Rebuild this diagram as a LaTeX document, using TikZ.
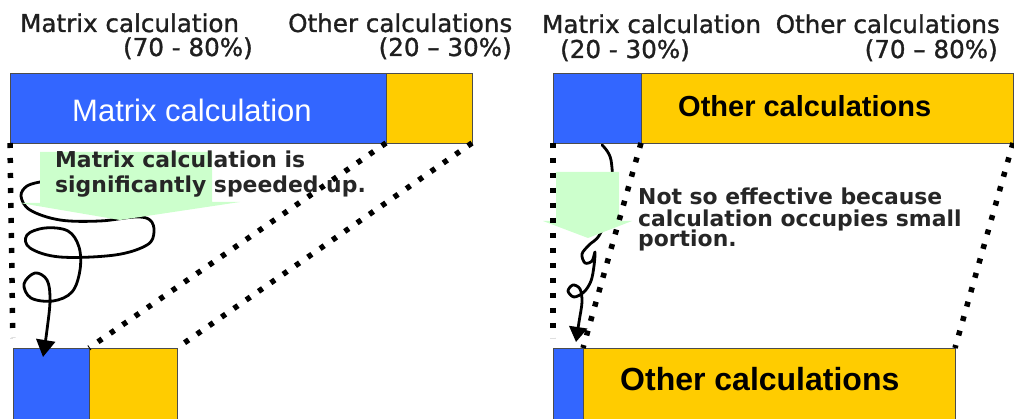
\documentclass[tikz,border=0pt]{standalone}
\usepackage{fontspec}
\setmainfont{DejaVu Sans}
\newfontfamily\arialfont{Liberation Sans}
\newfontfamily\headfont[FakeBold=1.2]{DejaVu Sans}
\usetikzlibrary{arrows.meta}
\definecolor{mblue}{RGB}{51,102,255}
\definecolor{myellow}{RGB}{255,204,0}
\definecolor{mgreen}{RGB}{204,255,204}
\tikzset{
  bar/.style={draw=black!70, line width=0.8pt, inner sep=0pt, outer sep=0pt,
    anchor=north west, minimum height=70pt},
  lbl/.style={inner sep=0pt, font=\headfont\fontsize{24.6}{27}\selectfont, text=black!88},
  note/.style={inner sep=0pt, anchor=base west,
    font=\fontsize{21.9}{24}\selectfont\bfseries, text=black!85},
  guide/.style={line width=5.5pt, dash pattern=on 5pt off 10pt, black},
  squiggle/.style={line width=2.8pt, line join=round, line cap=round,
    -{Triangle[width=19pt,length=17pt]}},
  bubble/.style={fill=mgreen, draw=none}
}
\begin{document}
\begin{tikzpicture}[x=1pt,y=-1pt]
\useasboundingbox (0,0) rectangle (1014,419);
\clip (0,0) rectangle (1014,419);

% ---------- left: before ----------
\node[lbl, anchor=base west] (lhA)  at (20,32)  {Matrix calculation};
\node[lbl, anchor=base east] (lhAp) at (253,56) {(70 - 80\%)};
\node[lbl, anchor=base west] (lhB)  at (288,32) {Other calculations};
\node[lbl, anchor=base east] (lhBp) at (512,56) {(20 \textendash{} 30\%)};

\node[bar, fill=mblue,   minimum width=376pt] (LtopMat) at (10,73)  {};
\node[bar, fill=myellow, minimum width=86pt]  (LtopOth) at (386,73) {};
\node[anchor=base west, inner sep=0pt, text=white,
      font=\arialfont\fontsize{31}{34}\selectfont] (LtopTxt) at (72,122) {Matrix calculation};

\node[bar, fill=mblue,   minimum width=76pt, minimum height=90pt] (LbotMat) at (13,348) {};
\node[bar, fill=myellow, minimum width=88pt, minimum height=90pt] (LbotOth) at (89,348) {};

% winding path of the speed-up arrow
\draw[squiggle] plot[smooth, tension=0.6] coordinates {
  (40,182) (27,186) (21,196) (30,210) (60,220) (100,221) (135,217) (150,220)
  (154,232) (147,245) (115,255) (60,257) (30,248) (27,235) (45,228) (68,231)
  (79,247) (80,270) (72,292) (53,301) (31,298) (24,284) (35,273) (47,280)
  (50,300) (47,330) (43,357)};

\path[bubble] (40,152) -- (212,152) -- (212,202) -- (240,202) -- (120,220)
  -- (20,203) -- (40,203) -- cycle;
\node[note] (lnote1) at (55,168) {Matrix calculation is};
\node[note] (lnote2) at (55,193) {significantly speeded up.};

\draw[guide, shorten >=10pt] (LtopMat.south west) -- (LbotMat.north west);
\draw[guide] (LtopMat.south east) -- (LbotMat.north east);
\draw[guide] (LtopOth.south east) -- (LbotOth.north east);

% ---------- right: after ----------
\node[lbl, anchor=base west] (rhA)  at (542,33) {Matrix calculation};
\node[lbl, anchor=base west] (rhAp) at (560,58) {(20 - 30\%)};
\node[lbl, anchor=base east] (rhB)  at (1000,33) {Other calculations};
\node[lbl, anchor=base east] (rhBp) at (998,58) {(70 \textendash{} 80\%)};

\node[bar, fill=mblue,   minimum width=88pt]  (RtopMat) at (553,73) {};
\node[bar, fill=myellow, minimum width=372pt] (RtopOth) at (641,73) {};
\node[anchor=base west, inner sep=0pt, text=black,
      font=\arialfont\bfseries\fontsize{29}{32}\selectfont] (RtopTxt) at (678,117) {Other calculations};

\node[bar, fill=mblue,   minimum width=30pt,  minimum height=90pt] (RbotMat) at (553,348) {};
\node[bar, fill=myellow, minimum width=372pt, minimum height=90pt] (RbotOth) at (583,348) {};
\node[anchor=base west, inner sep=0pt, text=black,
      font=\arialfont\bfseries\fontsize{32}{35}\selectfont] (RbotTxt) at (620,390) {Other calculations};

\draw[squiggle, -{Triangle[width=18pt,length=15pt]}] plot[smooth, tension=0.55] coordinates {
  (602,145) (611,160) (612,200) (600,234) (589,245) (582,254) (585,263)
  (592,261) (595,252) (594,266) (591,281) (584,292) (574,297) (568,291)
  (573,285) (580,289) (582,302) (579,322) (576,342)};

\path[bubble] (556,172) -- (619,172) -- (619,221) -- (632,221) -- (588,238)
  -- (543,221) -- (556,221) -- cycle;
\node[note] (rnote1) at (638,205) {Not so effective because};
\node[note] (rnote2) at (638,227) {calculation occupies small};
\node[note] (rnote3) at (638,247) {portion.};

\draw[guide, shorten >=10pt] (RtopMat.south west) -- (RbotMat.north west);
\draw[guide] (RtopMat.south east) -- (RbotMat.north east);
\draw[guide] (RtopOth.south east) -- (RbotOth.north east);
\end{tikzpicture}
\end{document}
